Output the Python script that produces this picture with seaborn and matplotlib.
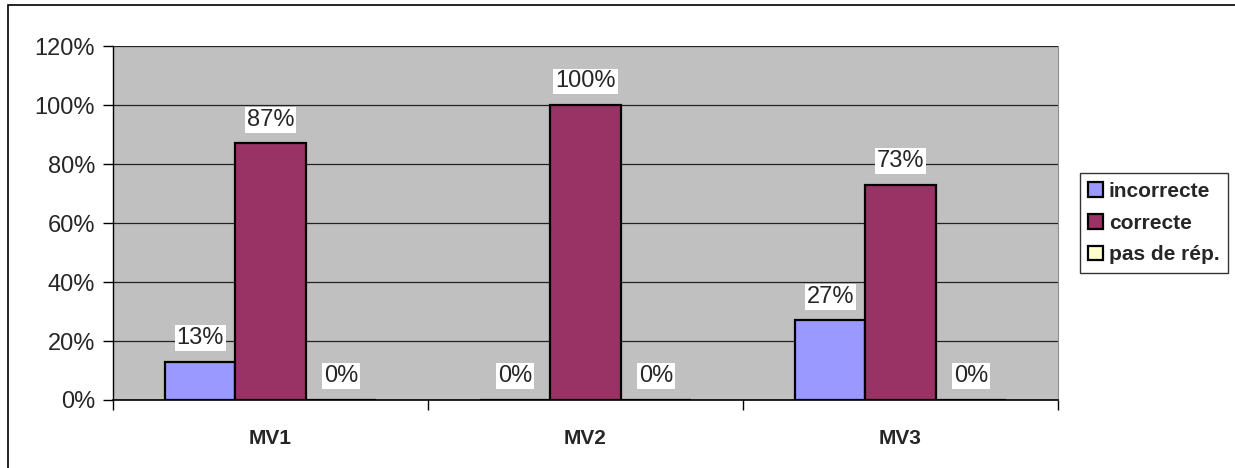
import pandas as pd
import matplotlib.pyplot as plt
import seaborn as sns
from matplotlib.patches import Rectangle

# values
categories = ['MV1', 'MV2', 'MV3']
series_names = ['incorrecte', 'correcte', 'pas de rép.']
incorrecte = [0.13, 0.0, 0.27]
correcte = [0.87, 1.0, 0.73]
pas_de_rep = [0.0, 0.0, 0.0]
colors = ['#9999FF', '#993366', '#FFFFCC']
y_ticks = [0, 0.2, 0.4, 0.6, 0.8, 1.0, 1.2]

df = pd.DataFrame({
    'cat': categories * 3,
    'serie': [s for s in series_names for _ in categories],
    'val': incorrecte + correcte + pas_de_rep,
})

sns.set_style('white')
plt.rcParams['font.family'] = ['Liberation Sans', 'DejaVu Sans']

fig = plt.figure(figsize=(12.35, 4.68), dpi=100)
ax = fig.add_axes([0.0915, 0.1453, 0.7652, 0.7564])

sns.barplot(data=df, x='cat', y='val', hue='serie', palette=colors,
            width=0.67, edgecolor='black', linewidth=1.6, ax=ax,
            legend=True, saturation=1)

ax.set_facecolor('#C0C0C0')
ax.set_ylim(0, 1.2)
ax.set_xlim(-0.5, 2.5)
ax.set_yticks(y_ticks)
ax.set_yticklabels([f'{int(round(t * 100))}%' for t in y_ticks], fontsize=17)
ax.yaxis.grid(True, color='#222222', linewidth=0.9)
ax.set_axisbelow(True)
ax.tick_params(axis='y', length=7, width=1, color='black', pad=6, left=True)

# category labels in the middle, tick marks on the boundaries
ax.set_xticks(range(len(categories)))
ax.set_xticklabels(categories, fontsize=15, fontweight='bold')
ax.tick_params(axis='x', which='major', length=0, pad=21)
ax.set_xticks([-0.5, 0.5, 1.5, 2.5], minor=True)
ax.tick_params(axis='x', which='minor', length=7, width=1, color='black', bottom=True)
ax.set_xlabel('')
ax.set_ylabel('')

ax.spines['top'].set_visible(False)
ax.spines['right'].set_color('#8c8c8c')
ax.spines['left'].set_color('black')
ax.spines['bottom'].set_color('black')
ax.spines['left'].set_linewidth(1)
ax.spines['bottom'].set_linewidth(1.2)

# value labels with white box above each bar
for cont in ax.containers:
    for bar in cont:
        h = bar.get_height()
        ax.annotate(f'{int(round(h * 100))}%',
                    (bar.get_x() + bar.get_width() / 2, h),
                    xytext=(0, 17), textcoords='offset points',
                    ha='center', va='center', fontsize=17,
                    bbox=dict(boxstyle='square,pad=0.08', fc='white', ec='none'))

leg = ax.legend(loc='center left', bbox_to_anchor=(1.023, 0.5), frameon=True,
                fancybox=False, edgecolor='black',
                prop={'weight': 'bold', 'size': 15},
                handlelength=0.7, handleheight=0.7, handletextpad=0.3,
                labelspacing=0.62, borderpad=0.4, borderaxespad=0)
leg.get_frame().set_linewidth(1)
for h in leg.legend_handles:
    h.set_edgecolor('black')
    h.set_linewidth(1.6)

# outer chart border (only left and top edges fall inside the image)
fig.patches.append(Rectangle((8 / 1235, -0.5), 1.2, 1.5 - 5 / 468,
                             transform=fig.transFigure, fill=False,
                             edgecolor='black', linewidth=1.2))

fig.savefig('out.png', dpi=100)
